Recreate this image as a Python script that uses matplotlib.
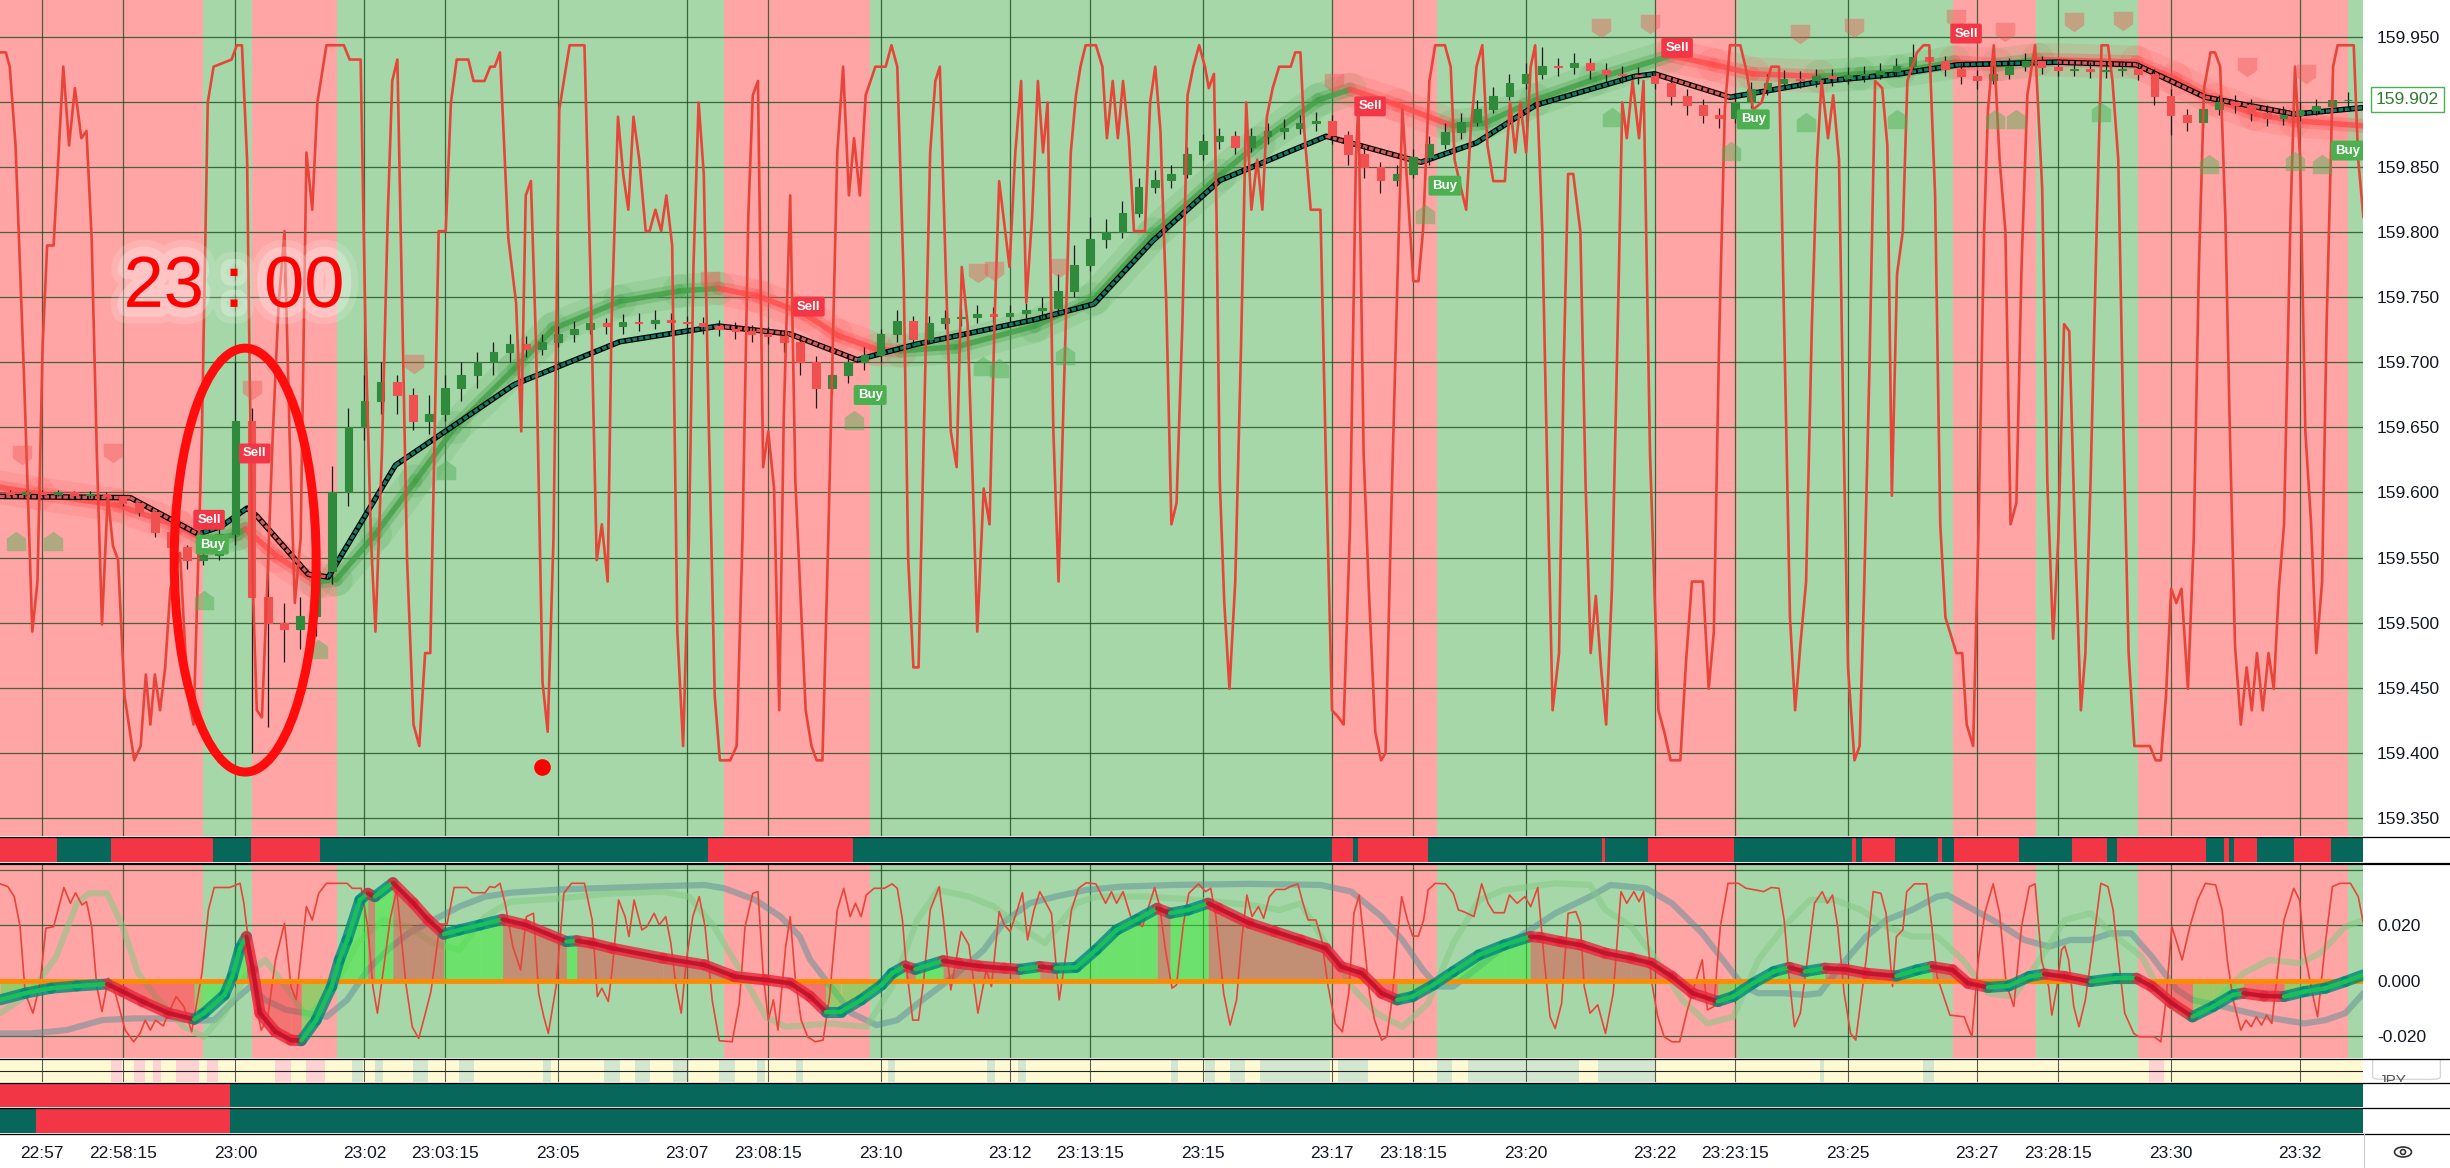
import numpy as np
import matplotlib
matplotlib.use("Agg")
import matplotlib.pyplot as plt
import matplotlib.patheffects as pe
from matplotlib.collections import LineCollection
from matplotlib.lines import Line2D
from matplotlib.patches import Ellipse, FancyBboxPatch
from matplotlib.path import Path

plt.rcParams['font.family'] = ['Liberation Sans', 'DejaVu Sans']
plt.rcParams['axes.unicode_minus'] = False

# x axis is minutes after 22:57
tick_t = [0, 1.25, 3, 5, 6.25, 8, 10, 11.25, 13, 15, 16.25, 18, 20, 21.25,
          23, 25, 26.25, 28, 30, 31.25, 33, 35]
tick_lbl = ["22:57", "22:58:15", "23:00", "23:02", "23:03:15", "23:05", "23:07",
            "23:08:15", "23:10", "23:12", "23:13:15", "23:15", "23:17", "23:18:15",
            "23:20", "23:22", "23:23:15", "23:25", "23:27", "23:28:15", "23:30", "23:32"]
x_min, x_max = -0.651, 35.984

price_levels = [159.35, 159.40, 159.45, 159.50, 159.55, 159.60, 159.65,
                159.70, 159.75, 159.80, 159.85, 159.90, 159.95]
last_price = 159.902
osc_levels = [0.04, 0.02, 0.0, -0.02]
osc_ticks = [0.02, 0.0, -0.02]

# background trend zones, alternating red / green (first is red)
trend_edges = [-0.651, 2.49, 3.25, 4.58, 10.58, 12.83, 20.0, 21.62, 25.0, 26.28,
               29.63, 30.92, 32.5, 35.75, 35.984]

# signal strip under the price pane, alternating red / teal (first is red)
strip1_edges = [-0.651, 0.23, 1.07, 2.65, 3.24, 4.31, 10.33, 12.57, 20.0, 20.33, 20.4,
                21.49, 24.19, 24.23, 24.9, 26.23, 28.06, 28.12, 28.22, 28.73, 29.4,
                29.46, 29.64, 30.65, 31.47, 32.02, 32.17, 33.55, 33.83, 33.91, 33.98,
                34.34, 34.91, 35.49, 35.984]
# lower strips: (start, end, colour key)
strip2_parts = [(-0.651, 2.91, 'r'), (2.91, 35.984, 'g')]
strip3_parts = [(-0.651, -0.09, 'g'), (-0.09, 2.91, 'r'), (2.91, 35.984, 'g')]
# faint cells in the yellow strip
pale_pink_cells = [(1.07, 1.24), (1.43, 1.60), (1.72, 1.85), (2.08, 2.43), (2.56, 2.73),
                   (3.61, 3.86), (4.09, 4.39), (32.67, 32.90)]
pale_green_cells = [(4.81, 4.98), (5.16, 5.29), (5.75, 5.98), (6.47, 6.70), (7.77, 7.89),
                    (8.71, 8.96), (9.19, 9.43), (9.78, 10.03), (10.50, 10.74), (11.09, 11.21),
                    (11.69, 11.80), (13.12, 13.22), (14.65, 14.78), (15.13, 15.26),
                    (17.50, 17.61), (18.03, 18.19), (18.42, 18.65), (18.88, 19.97),
                    (20.09, 20.56), (21.63, 21.86), (22.11, 23.83), (24.12, 25.01),
                    (27.57, 27.63), (29.16, 29.33)]

# 15 second candles, first bar at 22:56:30
bar_t0 = -0.5
bar_step = 0.25
first_open = 159.600
close = [
    159.599, 159.600, 159.599, 159.600, 159.598, 159.599, 159.597, 159.592, 159.585, 159.570,
    159.558, 159.548, 159.552, 159.568, 159.655, 159.520, 159.500, 159.495, 159.505, 159.540,
    159.600, 159.650, 159.670, 159.685, 159.675, 159.655, 159.660, 159.680, 159.690, 159.700,
    159.708, 159.714, 159.710, 159.716, 159.722, 159.726, 159.730, 159.728, 159.731, 159.730,
    159.733, 159.731, 159.730, 159.728, 159.726, 159.724, 159.722, 159.720, 159.716, 159.700,
    159.680, 159.690, 159.700, 159.706, 159.722, 159.732, 159.718, 159.730, 159.734, 159.735,
    159.737, 159.736, 159.738, 159.740, 159.742, 159.755, 159.775, 159.795, 159.800, 159.815,
    159.835, 159.840, 159.845, 159.860, 159.870, 159.874, 159.866, 159.874, 159.878, 159.880,
    159.884, 159.886, 159.875, 159.860, 159.850, 159.840, 159.845, 159.858, 159.868, 159.877,
    159.885, 159.895, 159.905, 159.915, 159.922, 159.928, 159.927, 159.930, 159.925, 159.922,
    159.921, 159.920, 159.915, 159.905, 159.898, 159.890, 159.888, 159.900, 159.910, 159.915,
    159.918, 159.917, 159.920, 159.919, 159.921, 159.922, 159.924, 159.928, 159.935, 159.932,
    159.926, 159.920, 159.917, 159.922, 159.928, 159.932, 159.927, 159.925, 159.926, 159.924,
    159.925, 159.926, 159.922, 159.905, 159.890, 159.885, 159.895, 159.900, 159.898, 159.892,
    159.888, 159.890, 159.894, 159.897, 159.902, 159.902]
high = [
    159.602, 159.602, 159.602, 159.602, 159.601, 159.601, 159.600, 159.598, 159.593, 159.586,
    159.572, 159.560, 159.556, 159.575, 159.700, 159.665, 159.560, 159.515, 159.520, 159.555,
    159.620, 159.665, 159.690, 159.700, 159.690, 159.680, 159.675, 159.690, 159.700, 159.708,
    159.716, 159.722, 159.720, 159.722, 159.728, 159.732, 159.735, 159.734, 159.737, 159.738,
    159.740, 159.738, 159.736, 159.735, 159.733, 159.731, 159.729, 159.727, 159.725, 159.720,
    159.705, 159.697, 159.705, 159.712, 159.726, 159.740, 159.736, 159.736, 159.740, 159.742,
    159.744, 159.743, 159.744, 159.746, 159.750, 159.768, 159.790, 159.812, 159.810, 159.824,
    159.842, 159.848, 159.852, 159.866, 159.876, 159.880, 159.878, 159.880, 159.884, 159.887,
    159.890, 159.893, 159.890, 159.878, 159.866, 159.854, 159.852, 159.864, 159.874, 159.884,
    159.892, 159.902, 159.912, 159.922, 159.930, 159.943, 159.934, 159.938, 159.934, 159.930,
    159.928, 159.927, 159.924, 159.918, 159.910, 159.903, 159.896, 159.906, 159.916, 159.922,
    159.925, 159.924, 159.926, 159.926, 159.927, 159.928, 159.930, 159.934, 159.945, 159.941,
    159.936, 159.930, 159.925, 159.928, 159.934, 159.938, 159.936, 159.932, 159.932, 159.931,
    159.931, 159.932, 159.930, 159.926, 159.910, 159.895, 159.900, 159.906, 159.906, 159.903,
    159.898, 159.897, 159.900, 159.903, 159.910, 159.908]
low = [
    159.597, 159.597, 159.597, 159.597, 159.596, 159.596, 159.595, 159.590, 159.582, 159.566,
    159.553, 159.541, 159.544, 159.548, 159.560, 159.400, 159.420, 159.470, 159.480, 159.490,
    159.530, 159.590, 159.640, 159.660, 159.660, 159.648, 159.645, 159.655, 159.670, 159.680,
    159.690, 159.700, 159.704, 159.706, 159.712, 159.716, 159.722, 159.722, 159.722, 159.724,
    159.726, 159.725, 159.724, 159.722, 159.720, 159.718, 159.716, 159.714, 159.708, 159.690,
    159.665, 159.676, 159.684, 159.694, 159.700, 159.716, 159.714, 159.714, 159.726, 159.728,
    159.730, 159.730, 159.731, 159.733, 159.734, 159.738, 159.750, 159.770, 159.788, 159.796,
    159.812, 159.830, 159.834, 159.842, 159.856, 159.864, 159.860, 159.862, 159.868, 159.872,
    159.876, 159.878, 159.868, 159.852, 159.842, 159.830, 159.836, 159.842, 159.852, 159.864,
    159.872, 159.882, 159.892, 159.902, 159.910, 159.918, 159.920, 159.922, 159.918, 159.916,
    159.915, 159.914, 159.910, 159.898, 159.890, 159.884, 159.880, 159.884, 159.896, 159.906,
    159.910, 159.911, 159.912, 159.913, 159.914, 159.916, 159.918, 159.920, 159.925, 159.926,
    159.920, 159.914, 159.910, 159.914, 159.918, 159.924, 159.922, 159.920, 159.920, 159.919,
    159.919, 159.920, 159.917, 159.898, 159.875, 159.878, 159.880, 159.890, 159.892, 159.886,
    159.882, 159.883, 159.886, 159.890, 159.894, 159.896]

# fast moving average (thick glowing line): (minute, price)
fast_ma = [(-0.651, 159.604), (-0.04, 159.599), (1.19, 159.590), (2.11, 159.574), (2.54, 159.563),
           (3.03, 159.568), (3.15, 159.572), (3.64, 159.551), (4.25, 159.531), (4.56, 159.533),
           (5.17, 159.568), (5.79, 159.609), (6.40, 159.650), (7.32, 159.695), (7.93, 159.726),
           (8.96, 159.747), (9.88, 159.755), (10.49, 159.757), (11.10, 159.751), (11.84, 159.737),
           (12.33, 159.721), (12.94, 159.710), (13.31, 159.709), (14.17, 159.712), (15.39, 159.728),
           (16.31, 159.749), (17.23, 159.799), (18.26, 159.844), (18.87, 159.869), (19.79, 159.902),
           (20.28, 159.910), (21.02, 159.898), (21.87, 159.882), (22.36, 159.884), (23.16, 159.902),
           (24.08, 159.918), (25.25, 159.936), (25.92, 159.929), (26.53, 159.922), (27.56, 159.920),
           (28.18, 159.922), (28.79, 159.924), (29.65, 159.931), (30.32, 159.929), (30.94, 159.933),
           (32.47, 159.931), (33.08, 159.918), (33.69, 159.902), (34.31, 159.891), (34.92, 159.886),
           (35.99, 159.882)]
# slow smoothed line (black boxed chain)
slow_ma = [(-0.651, 159.597), (1.37, 159.596), (2.42, 159.568), (2.78, 159.574), (3.18, 159.588),
           (3.33, 159.582), (4.13, 159.537), (4.44, 159.535), (5.48, 159.621), (7.32, 159.683),
           (8.96, 159.716), (10.49, 159.728), (11.59, 159.722), (12.64, 159.702), (13.55, 159.714),
           (15.39, 159.733), (16.31, 159.745), (17.23, 159.794), (18.26, 159.840), (19.91, 159.874),
           (21.38, 159.854), (22.24, 159.869), (23.16, 159.898), (24.69, 159.920), (25.00, 159.922),
           (26.17, 159.904), (27.56, 159.916), (28.79, 159.922), (29.71, 159.929), (31.24, 159.931),
           (32.47, 159.929), (33.54, 159.904), (34.92, 159.891), (35.99, 159.896)]

# stochastic drawn over the price pane, 0..100 (minute, value)
stoch_lo, stoch_hi = 159.394, 159.944
price_stoch = [
    (-0.65, 99), (-0.56, 99), (-0.50, 97), (-0.41, 86), (-0.28, 54), (-0.15, 18), (-0.07, 25),
    (0.01, 58), (0.08, 72), (0.18, 72), (0.33, 97), (0.42, 86), (0.51, 94), (0.61, 87), (0.69, 88),
    (0.77, 73), (0.85, 43), (0.93, 19), (1.02, 37), (1.10, 30), (1.18, 28), (1.28, 9), (1.43, 0),
    (1.53, 2), (1.61, 12), (1.68, 5), (1.75, 12), (1.83, 7), (1.91, 13), (1.99, 24), (2.14, 29),
    (2.26, 9), (2.35, 5), (2.48, 46), (2.57, 92), (2.66, 97), (2.94, 98), (3.02, 100), (3.10, 100),
    (3.18, 84), (3.22, 54), (3.27, 24), (3.33, 7), (3.41, 6), (3.49, 24), (3.58, 46), (3.67, 64),
    (3.76, 74), (3.84, 45), (3.92, 22), (4.01, 31), (4.10, 85), (4.19, 77), (4.27, 92), (4.41, 100),
    (4.68, 100), (4.77, 98), (4.94, 98), (5.02, 58), (5.10, 31), (5.17, 18), (5.27, 43), (5.36, 76),
    (5.43, 95), (5.51, 98), (5.59, 61), (5.66, 28), (5.76, 5), (5.85, 2), (5.94, 15), (6.02, 15),
    (6.15, 74), (6.26, 74), (6.34, 92), (6.43, 98), (6.61, 98), (6.69, 95), (6.86, 95), (6.95, 97),
    (7.02, 97), (7.10, 99), (7.23, 73), (7.35, 64), (7.43, 46), (7.50, 79), (7.58, 81), (7.66, 58),
    (7.76, 11), (7.84, 4), (7.93, 31), (8.02, 91), (8.09, 95), (8.18, 100), (8.41, 100), (8.50, 69),
    (8.60, 28), (8.68, 33), (8.77, 25),
    (8.83, 61), (8.93, 90), (9.01, 82), (9.09, 77), (9.17, 90), (9.26, 84), (9.36, 74), (9.42, 74),
    (9.51, 77), (9.60, 74), (9.68, 79), (9.77, 72), (9.85, 18), (9.94, 2), (10.03, 31), (10.10, 69),
    (10.18, 92), (10.26, 82), (10.34, 46), (10.43, 9), (10.51, 0), (10.67, 0), (10.77, 2),
    (10.86, 31), (10.95, 76), (11.02, 93), (11.10, 95), (11.18, 41), (11.26, 46), (11.35, 38),
    (11.43, 7), (11.50, 48), (11.60, 79), (11.68, 39), (11.84, 7), (11.93, 2), (12.01, 0),
    (12.10, 0), (12.19, 31), (12.33, 85), (12.42, 97), (12.51, 79), (12.59, 87), (12.68, 79),
    (12.77, 93), (12.92, 97), (13.08, 97), (13.17, 100), (13.26, 97), (13.36, 67), (13.43, 28),
    (13.51, 13), (13.59, 13), (13.68, 49), (13.77, 85), (13.85, 95), (13.92, 97), (14.01, 69),
    (14.09, 46), (14.18, 41), (14.26, 69), (14.35, 61), (14.43, 39), (14.50, 18), (14.60, 38),
    (14.69, 33), (14.77, 62), (14.84, 81), (15.00, 69), (15.09, 85), (15.18, 95), (15.26, 64),
    (15.35, 76), (15.44, 95), (15.52, 85), (15.59, 92), (15.68, 46), (15.76, 25), (15.85, 54),
    (15.95, 85), (16.03, 93), (16.10, 97), (16.18, 100), (16.34, 100), (16.44, 97), (16.51, 87),
    (16.60, 95), (16.68, 87), (16.76, 95), (16.85, 87), (16.93, 74), (17.10, 74), (17.18, 92),
    (17.26, 97), (17.34, 88), (17.43, 64), (17.51, 33), (17.59, 36), (17.68, 61), (17.76, 93),
    (17.85, 97), (17.94, 100), (18.03, 97), (18.09, 94), (18.17, 96),
    (18.21, 76), (18.26, 39), (18.33, 22), (18.41, 10), (18.50, 25), (18.59, 58), (18.67, 92),
    (18.75, 77), (18.84, 84), (18.92, 77), (18.99, 90), (19.08, 94), (19.18, 97), (19.27, 97),
    (19.36, 97), (19.43, 99), (19.51, 99), (19.57, 88), (19.67, 77), (19.82, 77), (19.91, 40),
    (20.00, 7), (20.10, 6), (20.18, 5), (20.28, 33), (20.37, 84), (20.41, 92), (20.49, 43),
    (20.57, 24), (20.67, 4), (20.76, 0), (20.83, 1), (20.92, 35), (21.02, 69), (21.09, 91),
    (21.17, 80), (21.26, 67), (21.34, 67), (21.41, 74), (21.51, 95), (21.60, 100), (21.75, 100),
    (21.84, 97), (21.90, 84), (22.00, 80), (22.08, 77), (22.15, 88), (22.24, 97), (22.33, 100),
    (22.41, 86), (22.50, 81), (22.68, 81), (22.76, 92), (22.84, 85), (22.92, 92), (23.01, 85),
    (23.08, 97), (23.15, 100), (23.26, 74), (23.35, 35), (23.42, 7), (23.52, 15), (23.59, 54),
    (23.66, 82), (23.74, 82), (23.85, 74), (23.93, 39), (24.01, 15), (24.09, 23), (24.17, 13),
    (24.25, 5), (24.34, 24), (24.44, 65), (24.50, 92), (24.57, 87), (24.66, 95), (24.76, 87),
    (24.83, 95), (24.93, 43), (25.06, 7), (25.15, 4), (25.25, 0), (25.40, 0), (25.49, 14),
    (25.58, 25), (25.75, 25), (25.84, 10), (25.92, 18), (26.00, 58), (26.09, 91), (26.17, 100),
    (26.33, 100), (26.41, 97), (26.53, 91), (26.66, 92), (26.81, 97), (26.93, 97),
    (27.01, 61), (27.10, 20), (27.18, 7), (27.26, 16), (27.35, 25), (27.44, 61), (27.52, 84),
    (27.59, 95), (27.69, 87), (27.77, 93), (27.86, 84), (27.93, 46), (28.00, 13), (28.10, 0),
    (28.18, 2), (28.25, 24), (28.33, 54), (28.42, 95), (28.53, 94), (28.61, 86), (28.68, 37),
    (28.76, 68), (28.85, 74), (28.92, 95), (29.07, 99), (29.17, 100), (29.26, 100), (29.35, 79),
    (29.43, 33), (29.51, 20), (29.68, 15), (29.77, 15), (29.84, 5), (29.94, 2), (30.02, 31),
    (30.11, 74), (30.17, 91), (30.26, 100), (30.35, 84), (30.44, 74), (30.52, 33), (30.61, 36),
    (30.69, 69), (30.78, 93), (30.90, 100), (31.01, 80), (31.09, 39), (31.18, 17), (31.26, 31),
    (31.35, 61), (31.43, 60), (31.52, 31), (31.61, 7), (31.68, 15), (31.76, 39), (31.86, 76),
    (31.93, 100), (32.03, 100), (32.10, 95), (32.19, 84), (32.27, 46), (32.35, 15), (32.44, 2),
    (32.68, 2), (32.77, 0), (32.85, 0), (32.93, 9), (33.01, 24), (33.09, 22), (33.17, 24),
    (33.27, 10), (33.36, 31), (33.44, 69), (33.52, 94), (33.62, 99), (33.69, 99), (33.77, 97),
    (33.85, 76), (33.92, 46), (34.00, 16), (34.09, 5), (34.18, 13), (34.26, 7), (34.34, 15),
    (34.43, 7), (34.52, 15), (34.60, 10), (34.68, 24), (34.76, 33), (34.86, 76), (34.93, 97),
    (35.01, 84), (35.09, 46), (35.18, 33), (35.26, 15), (35.35, 25), (35.42, 61), (35.52, 97),
    (35.59, 100), (35.84, 100), (35.91, 84), (35.99, 76)]

# signals
sell_labels = [(2.59, 159.579), (3.30, 159.630), (11.89, 159.743), (20.59, 159.897),
               (25.35, 159.942), (29.83, 159.953)]
buy_labels = [(2.64, 159.560), (12.84, 159.675), (21.75, 159.836), (26.53, 159.887),
              (35.74, 159.863)]
down_marks = [(-0.31, 159.629), (1.10, 159.630), (3.26, 159.679), (5.77, 159.699),
              (10.36, 159.763), (14.51, 159.769), (14.76, 159.770), (15.77, 159.773),
              (20.03, 159.915), (24.17, 159.957), (24.93, 159.960), (27.26, 159.953),
              (28.09, 159.957), (29.67, 159.964), (30.43, 159.954), (31.50, 159.962),
              (32.26, 159.963), (34.19, 159.927), (35.10, 159.922)]
up_marks = [(-0.40, 159.563), (0.17, 159.563), (2.51, 159.517), (4.28, 159.480),
            (6.26, 159.617), (12.59, 159.656), (14.59, 159.697), (14.84, 159.696),
            (15.86, 159.706), (21.44, 159.814), (24.34, 159.889), (26.19, 159.863),
            (27.35, 159.885), (28.76, 159.887), (30.28, 159.887), (30.60, 159.887),
            (31.92, 159.893), (33.60, 159.853), (34.93, 159.855), (35.35, 159.853)]
red_dot = [(7.75, 159.389)]

# oscillator pane, values in thousandths
osc_stoch = [
    (-0.65, 35.0), (-0.53, 34.0), (-0.43, 30.4), (-0.34, 19.6), (-0.26, -4.4), (-0.14, -11.6),
    (-0.03, -0.8), (0.06, 19.0), (0.18, 19.6), (0.34, 33.7), (0.44, 28.0), (0.52, 31.8),
    (0.62, 27.4), (0.69, 28.6), (0.77, 19.6), (0.85, -2.0), (0.93, -11.0), (1.03, 1.0),
    (1.13, -3.8), (1.29, -17.7), (1.42, -21.9), (1.52, -18.9), (1.60, -14.1), (1.68, -17.7),
    (1.76, -14.1), (1.88, -16.2), (1.96, -11.6), (2.08, -5.6), (2.20, -9.2), (2.32, -18.3),
    (2.48, 2.8), (2.58, 25.6), (2.67, 33.7), (2.91, 33.7), (3.07, 35.2), (3.13, 28.0),
    (3.23, 8.8), (3.30, -6.8), (3.40, -17.7), (3.50, -12.9), (3.62, 7.6), (3.76, 20.8),
    (3.86, -2.0), (3.94, -6.8), (4.02, 10.0), (4.10, 26.8), (4.19, 22.0), (4.29, 31.6),
    (4.41, 35.2), (4.73, 35.2), (4.81, 33.4), (4.95, 33.4), (5.05, 19.6), (5.13, -2.0),
    (5.20, -11.6), (5.30, 5.2), (5.40, 22.6), (5.50, 32.8), (5.64, -0.8), (5.74, -16.5),
    (5.84, -20.7), (5.93, -12.9), (6.03, -3.8), (6.17, 20.5), (6.28, 20.5), (6.39, 33.7),
    (6.59, 33.7), (6.67, 31.8), (6.87, 31.8), (6.94, 34.0), (7.02, 33.7), (7.10, 35.2),
    (7.18, 28.0), (7.30, 12.4), (7.42, 4.0), (7.51, 23.2), (7.62, 24.4), (7.70, -4.4),
    (7.78, -12.9), (7.85, -18.9), (7.97, -2.0), (8.09, 31.6), (8.21, 35.2), (8.41, 35.2),
    (8.53, 22.0), (8.61, -5.6), (8.68, -2.6), (8.78, -7.4), (8.84, 4.0), (8.94, 29.2),
    (9.04, 23.2), (9.10, 16.0), (9.18, 29.2), (9.30, 18.4), (9.38, 19.6), (9.49, 24.4),
    (9.57, 20.2), (9.67, 23.2), (9.75, 13.6), (9.83, -2.0), (9.91, -11.6), (9.99, 7.6),
    (10.09, 23.2), (10.19, 30.4), (10.28, 19.6), (10.39, -6.8), (10.50, -21.5), (10.70, -21.9),
    (10.81, -8.0), (10.90, 19.6), (11.02, 31.6), (11.10, 32.2), (11.18, 2.8), (11.26, -14.1),
    (11.34, -6.8), (11.41, -17.7), (11.53, 12.4),
    (11.60, 23.2), (11.68, 0.4), (11.77, -14.1), (11.87, -20.1), (11.99, -21.9), (12.11, -21.3),
    (12.21, -5.6), (12.33, 25.6), (12.43, 33.4), (12.53, 23.2), (12.61, 28.0), (12.70, 23.2),
    (12.78, 31.0), (12.90, 33.4), (13.06, 33.4), (13.18, 35.0), (13.26, 33.4), (13.34, 22.0),
    (13.40, 5.2), (13.50, -14.1), (13.59, -14.1), (13.67, 0.4), (13.77, 25.6), (13.91, 34.0),
    (13.97, 23.2), (14.09, -3.2), (14.25, 17.8), (14.37, 13.0), (14.51, -11.6), (14.64, 4.0),
    (14.72, -2.0), (14.84, 25.0), (14.92, 20.2), (15.01, 17.8), (15.12, 25.6), (15.20, 31.8),
    (15.28, 14.8), (15.38, 25.6), (15.47, 32.2), (15.65, 24.4), (15.77, -6.8), (15.87, 8.8),
    (15.96, 25.6), (16.07, 33.4), (16.19, 35.4), (16.34, 35.0), (16.49, 28.0), (16.58, 32.2),
    (16.66, 28.0), (16.76, 32.2), (16.88, 23.2), (17.06, 19.6), (17.25, 33.7), (17.33, 26.8),
    (17.41, 12.4), (17.52, -2.6), (17.59, -1.4), (17.69, 19.6), (17.78, 31.6), (17.93, 35.0),
    (18.04, 32.2), (18.12, 33.4), (18.20, 23.2), (18.32, -4.4), (18.42, -15.9), (18.52, -6.8),
    (18.60, 14.8), (18.68, 31.0), (18.76, 23.2), (18.86, 26.8), (18.94, 22.6), (19.03, 30.4),
    (19.13, 33.0), (19.27, 33.0), (19.35, 34.0), (19.47, 35.0), (19.55, 28.0), (19.63, 22.0),
    (19.75, 22.0), (19.84, 14.8), (19.94, -2.0), (20.05, -15.3), (20.16, -18.3), (20.26, -4.4),
    (20.34, 24.4), (20.42, 31.0), (20.50, 13.6), (20.58, -4.4), (20.66, -14.1), (20.77, -21.3),
    (20.85, -20.1), (20.93, -6.8), (21.01, 14.8), (21.08, 30.4), (21.17, 22.0), (21.25, 16.2),
    (21.34, 16.2), (21.42, 22.0), (21.49, 32.8), (21.60, 35.2), (21.76, 35.0), (21.88, 31.6),
    (21.96, 25.6), (22.04, 25.0), (22.20, 23.2), (22.32, 35.0), (22.42, 28.0), (22.51, 24.6),
    (22.67, 24.6), (22.75, 31.0), (22.87, 28.0), (22.99, 30.4), (23.08, 26.8), (23.19, 33.7),
    (23.29, 7.6), (23.38, -12.9), (23.46, -17.1), (23.56, -8.0), (23.66, 24.4), (23.78, 25.0),
    (23.85, 20.8), (23.91, -2.0), (24.00, -11.6), (24.12, -8.6), (24.24, -18.9), (24.36, -4.4),
    (24.48, 32.2), (24.57, 28.0), (24.68, 32.2), (24.76, 28.6), (24.83, 32.2), (24.95, 0.4),
    (25.05, -12.9), (25.15, -20.1), (25.27, -21.9), (25.39, -21.9), (25.51, -10.4), (25.63, -0.8),
    (25.74, 7.6), (25.82, -10.4), (25.92, -9.2), (26.02, 19.6), (26.14, 35.2), (26.30, 35.2),
    (26.42, 33.4), (26.57, 32.8), (26.69, 32.2), (26.81, 33.7), (26.93, 33.4), (27.01, 22.0),
    (27.09, 0.4), (27.17, -16.5), (27.26, -11.6), (27.37, 7.6), (27.48, 28.0), (27.60, 32.2),
    (27.68, 28.0), (27.76, 31.0), (27.84, 19.6), (27.94, -4.4), (28.04, -18.9), (28.12, -21.3),
    (28.28, 7.6), (28.39, 32.2), (28.51, 31.6), (28.59, 24.4), (28.69, -2.0), (28.75, 16.0),
    (28.85, 18.4), (28.91, 32.2), (29.03, 35.0), (29.22, 35.0), (29.30, 19.6), (29.38, 1.6),
    (29.58, -12.3), (29.80, -12.9), (29.92, -20.1), (30.02, 7.6), (30.12, 24.4), (30.25, 35.0),
    (30.35, 24.4), (30.45, -0.8), (30.57, -9.2), (30.69, 19.6), (30.81, 34.0), (30.90, 35.0),
    (31.00, 7.6), (31.11, -2.0), (31.16, -12.3), (31.24, -2.0), (31.31, 11.2), (31.36, 12.6),
    (31.42, 7.6), (31.50, -9.2), (31.58, -16.5), (31.68, -6.8), (31.80, 13.6), (31.92, 35.2),
    (32.03, 34.0), (32.11, 25.6), (32.19, 8.8), (32.29, -11.6), (32.43, -18.9), (32.51, -20.1),
    (32.75, -20.1), (32.85, -21.9), (32.93, -6.8), (33.02, 19.6), (33.18, 7.6), (33.30, 19.6),
    (33.42, 29.2), (33.54, 35.2), (33.70, 34.6), (33.80, 25.6), (33.88, 7.6), (33.97, -6.8),
    (34.09, -17.7), (34.17, -14.1), (34.25, -16.5), (34.33, -12.9), (34.41, -15.9), (34.49, -12.3),
    (34.57, -15.3), (34.67, 5.2), (34.76, 22.0), (34.91, 33.4), (35.00, 29.2), (35.08, 10.0),
    (35.20, -4.4), (35.28, -12.9), (35.40, 13.6), (35.51, 34.0), (35.63, 35.2), (35.79, 35.2),
    (35.91, 30.4), (35.99, 20.8)]
macd = [(-0.65, -6.8), (-0.26, -4.4), (0.14, -2.6), (0.54, -1.8), (1.01, -1.1), (1.25, -3.8),
        (1.56, -7.4), (1.96, -11.6), (2.36, -13.8), (2.51, -11.6), (2.83, -5.0), (2.95, 1.6),
        (3.07, 11.8), (3.17, 16.0), (3.27, 4.0), (3.38, -11.6), (3.62, -18.3), (3.86, -21.3),
        (4.02, -21.5), (4.25, -14.1), (4.49, -2.0), (4.61, 7.6), (4.73, 14.8), (4.93, 29.2),
        (5.05, 31.6), (5.16, 30.4), (5.44, 35.4), (5.76, 28.0), (5.99, 22.0), (6.23, 16.9),
        (6.47, 18.4), (6.79, 20.2), (7.14, 22.2), (7.50, 20.2), (8.13, 14.2), (8.29, 14.5),
        (8.53, 13.6), (8.84, 11.8), (9.63, 8.2), (10.27, 5.8), (10.74, 1.6), (11.22, 0.4),
        (11.60, -0.8), (11.91, -5.6), (12.15, -11.0), (12.39, -11.0), (12.70, -6.8), (13.02, -1.4),
        (13.18, 2.8), (13.38, 5.4), (13.54, 4.2), (13.97, 7.3), (14.21, 6.4), (14.52, 5.4),
        (14.92, 4.6), (15.16, 4.2), (15.47, 5.2), (15.71, 4.6), (16.03, 4.9), (16.34, 11.2),
        (16.66, 18.4), (16.98, 22.2), (17.29, 26.2), (17.49, 24.4), (17.77, 25.6), (18.08, 28.0),
        (18.24, 26.2), (18.72, 20.8), (19.11, 17.8), (19.51, 14.8), (19.90, 11.8), (20.14, 5.2),
        (20.46, 2.8), (20.77, -4.4), (21.01, -6.8), (21.25, -5.6), (21.57, -1.4), (21.88, 3.4),
        (22.28, 9.4), (22.67, 13.0), (23.07, 16.0), (23.23, 15.7), (23.54, 14.2), (23.85, 13.0),
        (24.24, 10.0), (24.64, 8.2), (24.95, 6.4), (25.27, 1.6), (25.59, -4.4), (25.98, -7.4),
        (26.22, -5.6), (26.53, -0.8), (26.85, 3.4), (27.09, 4.9), (27.33, 3.4), (27.64, 4.6),
        (27.96, 4.2), (28.28, 2.8), (28.75, 1.8), (29.07, 4.0), (29.30, 5.2), (29.62, 4.0),
        (29.86, -0.8), (30.17, -2.3), (30.49, -1.8), (30.81, 1.6), (31.04, 2.5), (31.36, 1.6),
        (31.76, -0.2), (32.15, 1.0), (32.47, 1.0), (32.71, -2.0), (33.02, -8.0), (33.34, -12.9),
        (33.66, -9.2), (33.97, -5.0), (34.13, -4.4), (34.45, -5.4), (34.76, -5.6), (35.08, -3.8),
        (35.40, -2.6), (35.71, -0.2), (35.99, 2.2)]
signal_slow = [(-0.65, -18.9), (-0.18, -18.9), (0.38, -17.7), (0.93, -14.1), (1.41, -13.5),
               (1.96, -13.5), (2.44, -14.3), (2.67, -14.1), (2.99, -6.8), (3.23, -2.0), (3.46, -6.8),
               (3.78, -10.4), (4.10, -11.6), (4.41, -12.9), (4.73, -6.8), (5.05, 4.0), (5.36, 11.2),
               (5.68, 17.2), (6.07, 22.0), (6.47, 26.8), (6.87, 30.4), (7.26, 31.8), (8.05, 33.0),
               (8.84, 33.6), (9.63, 34.2), (10.27, 34.6), (10.58, 33.4), (11.06, 29.2), (11.45, 23.2),
               (11.75, 16.0), (11.91, 7.6), (12.23, -2.0), (12.55, -11.6), (12.94, -15.9),
               (13.26, -14.1), (13.65, -6.8), (14.13, 1.6), (14.60, 11.2), (14.92, 21.4),
               (15.31, 28.0), (15.71, 30.4), (16.19, 32.8), (16.74, 34.0), (17.53, 34.6),
               (18.72, 35.0), (19.83, 34.6), (20.30, 32.2), (20.77, 23.2), (21.09, 14.8), (21.41, 4.0),
               (21.64, -2.0), (21.88, -2.0), (22.28, 5.2), (22.67, 12.4), (23.07, 18.4), (23.46, 24.4),
               (24.00, 30.4), (24.32, 34.6), (24.87, 33.4), (25.27, 28.0), (25.74, 17.2), (26.06, 7.6),
               (26.38, -2.0), (26.61, -4.4), (27.01, -4.4), (27.33, -5.0), (27.56, -4.4), (27.88, 5.2),
               (28.28, 16.0), (28.59, 22.0), (28.99, 25.6), (29.38, 30.4), (29.54, 31.0),
               (29.86, 26.8), (30.33, 20.8), (30.73, 14.8), (31.12, 12.4), (31.44, 14.8),
               (31.76, 14.8), (32.07, 17.2), (32.39, 17.2), (32.71, 8.8), (33.10, -3.2),
               (33.34, -6.8), (33.81, -9.2), (34.13, -11.0), (34.60, -13.5), (35.08, -15.3),
               (35.40, -14.1), (35.71, -11.6), (35.99, -4.4)]
signal_fast = [(-0.65, -11.6), (-0.18, -4.4), (0.22, 8.8), (0.54, 28.0), (0.73, 31.6), (1.01, 31.6),
               (1.25, 19.6), (1.49, 2.8), (1.80, -6.8), (2.20, -16.5), (2.51, -20.1), (2.83, -11.6),
               (3.15, 1.6), (3.46, 7.6), (3.78, -2.0), (4.10, -12.9), (4.49, -4.4), (4.89, 13.6),
               (5.28, 22.0), (5.68, 19.6), (6.07, 13.6), (6.47, 11.2), (6.87, 23.2), (7.26, 28.6),
               (8.05, 29.8), (8.84, 31.6), (9.63, 32.2), (10.03, 30.4), (10.42, 19.6), (10.82, 4.0),
               (11.22, -12.9), (11.53, -16.5), (12.23, -15.3), (12.78, -16.5), (13.18, -2.0),
               (13.57, 22.0), (13.89, 32.8), (14.37, 30.4), (14.76, 26.8), (15.16, 19.6),
               (15.55, 13.6), (16.03, 28.0), (16.34, 30.4), (17.13, 30.4), (17.93, 29.2),
               (18.72, 27.4), (19.19, 25.6), (19.51, 28.0), (19.90, 13.6), (20.30, -2.0),
               (20.69, -11.6), (21.09, -16.5), (21.49, -8.0), (21.88, 13.6), (22.28, 29.2),
               (22.67, 32.8), (23.46, 35.2), (24.00, 34.6), (24.24, 25.6), (24.64, 19.6), (25.03, 7.6),
               (25.43, -6.8), (25.82, -15.3), (26.22, -12.9), (26.61, 7.6), (27.01, 19.6),
               (27.41, 29.2), (27.80, 29.2), (28.20, 25.6), (28.59, 19.6), (28.99, 16.0),
               (29.38, 16.0), (29.78, 7.6), (30.17, -4.4), (30.57, -5.6), (30.97, 7.6), (31.36, 22.0),
               (31.76, 24.4), (32.15, 16.0), (32.55, 8.8), (32.94, -8.0), (33.34, -14.1),
               (33.73, -6.8), (34.13, 2.8), (34.53, 7.6), (35.00, 6.4), (35.32, 10.0), (35.71, 19.6),
               (35.99, 22.0)]

# annotation drawn on the screenshot
note_text = "23 : 00"
note_pos = (2.98, 159.757)
ring_center = (3.15, 159.548)
ring_size = (2.2, 0.326)

# colours
BG_RED, BG_GREEN = '#ffa5a5', '#a6d7a8'
STRIP_RED, STRIP_TEAL = '#f23645', '#07675b'
GRID = '#1f4d22'

W, H = 2450, 1168
fig = plt.figure(figsize=(W / 100, H / 100), dpi=100, facecolor='white')


def pane(x0, y0, x1, y1):
    a = fig.add_axes([x0 / W, 1 - y1 / H, (x1 - x0) / W, (y1 - y0) / H])
    a.set_xlim(x_min, x_max)
    for s in a.spines.values():
        s.set_visible(False)
    a.tick_params(left=False, bottom=False, labelleft=False, labelbottom=False)
    return a


ax = pane(0, 0, 2363, 836)
ax_s1 = pane(0, 837, 2363, 862)
ax_o = pane(0, 865, 2363, 1058)
ax_y = pane(0, 1059, 2363, 1082)
ax_s2 = pane(0, 1083, 2363, 1107)
ax_s3 = pane(0, 1108, 2363, 1133)


def trend_background(a):
    for i in range(len(trend_edges) - 1):
        a.axvspan(trend_edges[i], trend_edges[i + 1], color=BG_RED if i % 2 == 0 else BG_GREEN,
                  lw=0, zorder=0)


def slope_segments(pts):
    p = np.asarray(pts, dtype=float)
    segs = np.stack([p[:-1], p[1:]], axis=1)
    rising = np.diff(p[:, 1]) >= 0
    return segs, rising


# ---------------- price pane ----------------
ax.set_ylim(159.3358, 159.9788)
trend_background(ax)
for lv in price_levels:
    ax.axhline(lv, color=GRID, lw=0.9, alpha=0.8, zorder=0.5)
for tt in tick_t:
    ax.axvline(tt, color=GRID, lw=0.9, alpha=0.8, zorder=0.5)

# fast MA with glow
segs, rising = slope_segments(fast_ma)
cols = np.where(rising, '#43a047', '#ff4d4d')
ax.add_collection(LineCollection(segs, colors=cols, linewidths=24, alpha=0.13, capstyle='round', zorder=2))
ax.add_collection(LineCollection(segs, colors=cols, linewidths=10, alpha=0.3, capstyle='round', zorder=2.1))
ax.add_collection(LineCollection(segs, colors=cols, linewidths=4, alpha=0.8, capstyle='round', zorder=2.2))

# slow line as a chain of boxed squares
slow = np.asarray(slow_ma)
ax.plot(slow[:, 0], slow[:, 1], color='black', lw=4.0, zorder=3)
segs, rising = slope_segments(slow_ma)
ax.add_collection(LineCollection(segs, colors=np.where(rising, '#0f7a68', '#d65a5a'),
                                 linewidths=2.4, linestyles=(0, (1.4, 0.5)), zorder=3.1))

# candles
c = np.asarray(close)
o = np.r_[first_open, c[:-1]]
hi = np.asarray(high)
lo = np.asarray(low)
tb = bar_t0 + bar_step * np.arange(len(c))
up = c >= o
ax.vlines(tb, lo, hi, color='#1b1b1b', lw=0.9, zorder=4)
ccol = np.where(up, '#2f8a3c', '#f05050')
ax.bar(tb, c - o, bottom=o, width=0.12, color=ccol, edgecolor=ccol, linewidth=0.8, zorder=4.1)

# stochastic overlay
st = np.asarray(price_stoch, dtype=float)
ax.plot(st[:, 0], stoch_lo + st[:, 1] / 100 * (stoch_hi - stoch_lo), color='#e8453a', lw=1.9,
        zorder=5)

# faded arrow markers
house_down = Path([(-1, 1), (1, 1), (1, -0.3), (0, -1), (-1, -0.3), (-1, 1)])
house_up = Path([(-1, -1), (1, -1), (1, 0.3), (0, 1), (-1, 0.3), (-1, -1)])
dm = np.asarray(down_marks)
um = np.asarray(up_marks)
ax.plot(dm[:, 0], dm[:, 1], ls='none', marker=house_down, ms=14, color='#ef5350', alpha=0.4,
        mec='none', zorder=6)
ax.plot(um[:, 0], um[:, 1], ls='none', marker=house_up, ms=14, color='#4caf50', alpha=0.45,
        mec='none', zorder=6)

for (tt, pp) in buy_labels:
    ax.text(tt, pp, 'Buy', ha='center', va='center', color='white', fontsize=9.5, fontweight='bold',
            zorder=7, clip_on=True,
            bbox=dict(boxstyle='round,pad=0.3,rounding_size=0.15', fc='#4caf50', ec='none'))
for (tt, pp) in sell_labels:
    ax.text(tt, pp, 'Sell', ha='center', va='center', color='white', fontsize=9.5, fontweight='bold',
            zorder=7.1, clip_on=True,
            bbox=dict(boxstyle='round,pad=0.3,rounding_size=0.15', fc='#f23645', ec='none'))

rd = np.asarray(red_dot)
ax.plot(rd[:, 0], rd[:, 1], 'o', color='#ff0000', ms=12, mec='none', zorder=8)

ax.add_patch(Ellipse(ring_center, ring_size[0], ring_size[1], fill=False, ec='#ff0d0d', lw=6.5,
                     zorder=9))
ax.text(note_pos[0], note_pos[1], note_text, ha='center', va='center', color='#ff0000',
        fontsize=52, family=['Liberation Sans', 'DejaVu Sans'], zorder=9,
        path_effects=[pe.Stroke(linewidth=24, foreground='white', alpha=0.15),
                      pe.Stroke(linewidth=14, foreground='white', alpha=0.25),
                      pe.Normal()])

ax.yaxis.tick_right()
shown = [lv for lv in price_levels if abs(lv - last_price) > 0.01]
ax.set_yticks(shown)
ax.set_yticklabels(['%.3f' % lv for lv in shown])
ax.tick_params(axis='y', right=False, labelright=True, length=0, pad=10, labelsize=12.5,
               labelcolor='#131722')
ax.text(1.0055, last_price, '%.3f' % last_price, transform=ax.get_yaxis_transform(), ha='left',
        va='center', fontsize=12.5, color='#2e7d32', clip_on=False,
        bbox=dict(boxstyle='square,pad=0.28', fc='white', ec='#4caf50', lw=1))

# ---------------- signal strips ----------------
for a in (ax_s1, ax_s2, ax_s3):
    a.set_ylim(0, 1)
for i in range(len(strip1_edges) - 1):
    ax_s1.axvspan(strip1_edges[i], strip1_edges[i + 1], color=STRIP_RED if i % 2 == 0 else STRIP_TEAL,
                  lw=0)
for a, parts in ((ax_s2, strip2_parts), (ax_s3, strip3_parts)):
    for (t0, t1, k) in parts:
        a.axvspan(t0, t1, color=STRIP_RED if k == 'r' else STRIP_TEAL, lw=0)

# ---------------- oscillator pane ----------------
ax_o.set_ylim(-0.02775, 0.0418)
trend_background(ax_o)
for lv in osc_levels:
    ax_o.axhline(lv, color=GRID, lw=0.9, alpha=0.8, zorder=0.5)
for tt in tick_t:
    ax_o.axvline(tt, color=GRID, lw=0.9, alpha=0.8, zorder=0.5)

for series, col, al in ((signal_slow, '#5b8e98', 0.5), (signal_fast, '#86c986', 0.55)):
    s = np.asarray(series, dtype=float)
    ax_o.plot(s[:, 0], s[:, 1] / 1000, color=col, lw=4.5, alpha=al, zorder=2,
              solid_capstyle='round')

m = np.asarray(macd, dtype=float)
mv = m[:, 1] / 1000
for i in range(len(m) - 1):
    r = mv[i + 1] >= mv[i]
    ax_o.fill_between([m[i, 0], m[i + 1, 0]], [mv[i], mv[i + 1]], [0, 0],
                      color='#33ee33' if r else '#e53935', alpha=0.5 if r else 0.45, lw=0, zorder=3)

so = np.asarray(osc_stoch, dtype=float)
ax_o.plot(so[:, 0], so[:, 1] / 1000, color='#e8453a', lw=1.2, zorder=4)
ax_o.axhline(0, color='#ff8c00', lw=3.6, alpha=0.95, zorder=5)

pts = np.column_stack([m[:, 0], mv])
segs = np.stack([pts[:-1], pts[1:]], axis=1)
rising = np.diff(mv) >= 0
ax_o.add_collection(LineCollection(segs, colors=np.where(rising, '#00897b', '#e8283c'),
                                   linewidths=8, alpha=0.8, capstyle='round', zorder=6))
ax_o.add_collection(LineCollection(segs, colors=np.where(rising, '#19c25a', '#c4122c'),
                                   linewidths=3.2, alpha=0.95, capstyle='round', zorder=6.1))

ax_o.yaxis.tick_right()
ax_o.set_yticks(osc_ticks)
ax_o.set_yticklabels(['%.3f' % v for v in osc_ticks])
ax_o.tick_params(axis='y', right=False, labelright=True, length=0, pad=10, labelsize=12.5,
                 labelcolor='#131722')

# ---------------- yellow strip ----------------
ax_y.set_ylim(0, 1)
ax_y.axvspan(x_min, x_max, color='#fffad4', lw=0, zorder=0)
for (t0, t1) in pale_pink_cells:
    ax_y.axvspan(t0, t1, color='#ffd3d3', lw=0, zorder=0.2)
for (t0, t1) in pale_green_cells:
    ax_y.axvspan(t0, t1, color='#d3e6cf', lw=0, zorder=0.2)
ax_y.axhline(0.5, color='#222222', lw=0.8, zorder=1)
for tt in tick_t:
    ax_y.axvline(tt, color='#333333', lw=0.8, alpha=0.8, zorder=1)

# ---------------- time axis ----------------
ax_s3.set_xticks(tick_t)
ax_s3.set_xticklabels(tick_lbl)
ax_s3.tick_params(axis='x', bottom=False, labelbottom=True, length=0, pad=9, labelsize=12.5,
                  labelcolor='#131722')

# separators between panes (full width, including the price scale)
for y, lw in ((836.5, 0.9), (863.5, 1.6), (1058.5, 0.9), (1082.5, 0.9), (1107.5, 0.9), (1133.5, 0.9)):
    fig.add_artist(Line2D([0, 1], [1 - y / H, 1 - y / H], transform=fig.transFigure, color='black',
                          lw=lw))
fig.add_artist(Line2D([2363.5 / W, 2363.5 / W], [0, 1 - 1133.5 / H], transform=fig.transFigure,
                      color='#cccccc', lw=0.8))

# currency tag (cut by the pane edge) and the eye icon
ax_tag = fig.add_axes([2368 / W, 1 - 1082 / H, 77 / W, 22 / H])
ax_tag.set_axis_off()
ax_tag.add_patch(FancyBboxPatch((0.06, 0.12), 0.88, 1.4, boxstyle='round,pad=0,rounding_size=0.12',
                                transform=ax_tag.transAxes, fc='white', ec='#d6d6d6', lw=1,
                                clip_on=True))
ax_tag.text(0.14, 0.05, 'JPY', transform=ax_tag.transAxes, fontsize=11, color='#555555',
            va='center', ha='left', clip_on=True)
fig.add_artist(Ellipse((2403 / W, 1 - 1152 / H), 17 / W, 10 / H, transform=fig.transFigure,
                       fill=False, ec='#333333', lw=1.2))
fig.add_artist(Ellipse((2403 / W, 1 - 1152 / H), 5 / W, 5 / H, transform=fig.transFigure,
                       fill=False, ec='#333333', lw=1.2))

fig.savefig('out.png', dpi=100, facecolor='white')
